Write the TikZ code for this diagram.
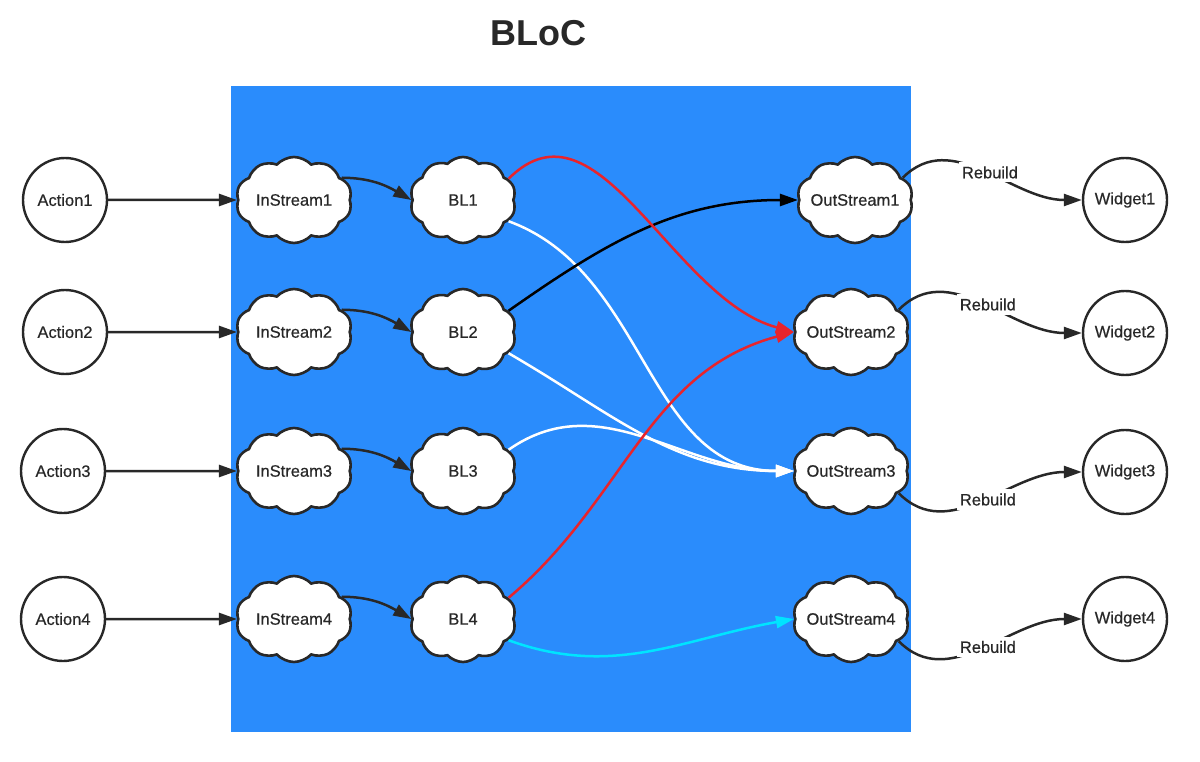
\documentclass[tikz,border=0pt]{standalone}
\usepackage{fontspec}
\setmainfont{Liberation Sans}
\newfontfamily\boxfont{Liberation Sans}[FakeBold=0.5]
\usepackage{tikz}
\usetikzlibrary{shapes.symbols,arrows.meta}
\definecolor{blocblue}{RGB}{42,140,252}
\definecolor{ink}{RGB}{40,40,40}
\definecolor{linkred}{RGB}{232,36,44}
\definecolor{linkcyan}{RGB}{0,228,255}

\begin{document}
\begin{tikzpicture}[x=1pt,y=1pt,
  font=\boxfont\fontsize{16.5}{19}\selectfont,
  act/.style={circle,draw=ink,line width=2.4pt,minimum size=84pt,inner sep=0pt,text=ink},
  blob/.style={cloud,cloud puffs=10,cloud puff arc=95,aspect=1.35,draw=ink,line width=2.6pt,fill=white,
    minimum width=116pt,minimum height=86pt,inner sep=0pt,label={[text=ink]center:#1}},
  link/.style={line width=2.5pt,-{Triangle[length=18pt,width=12pt]}},
  tag/.style={fill=white,inner xsep=3pt,inner ysep=4pt,text=ink}]
\useasboundingbox (0,0) rectangle (1200,-762);
\fill[blocblue] (231,-86) rectangle (911,-732);
\node[text=ink,font=\fontsize{36}{40}\selectfont\bfseries] (title) at (538,-33) {BLoC};

% actions
\node[act] (act1) at (65,-200) {Action1};
\node[act] (act2) at (65,-332) {Action2};
\node[act] (act3) at (63,-471) {Action3};
\node[act] (act4) at (63,-619) {Action4};

% streams in, logic, streams out
\node[blob=InStream1] (in1) at (294,-200) {};
\node[blob=InStream2] (in2) at (294,-332) {};
\node[blob=InStream3] (in3) at (294,-471) {};
\node[blob=InStream4] (in4) at (294,-619) {};
\node[blob=BL1,minimum width=106pt] (bl1) at (463,-200) {};
\node[blob=BL2,minimum width=106pt] (bl2) at (463,-332) {};
\node[blob=BL3,minimum width=106pt] (bl3) at (463,-471) {};
\node[blob=BL4,minimum width=106pt] (bl4) at (463,-619) {};
\node[blob=OutStream1] (out1) at (855,-200) {};
\node[blob=OutStream2] (out2) at (851,-332) {};
\node[blob=OutStream3] (out3) at (851,-471) {};
\node[blob=OutStream4] (out4) at (851,-619) {};

% widgets
\node[act] (wid1) at (1125,-200) {Widget1};
\node[act] (wid2) at (1125,-333) {Widget2};
\node[act] (wid3) at (1125,-472) {Widget3};
\node[act] (wid4) at (1125,-619) {Widget4};

\draw[link,ink] (act1) -- (in1.west);
\draw[link,ink] (act2) -- (in2.west);
\draw[link,ink] (act3) -- (in3.west);
\draw[link,ink] (act4) -- (in4.west);
\draw[link,ink] (in1.25) to[out=0,in=150] (bl1.west);
\draw[link,ink] (in2.25) to[out=0,in=150] (bl2.west);
\draw[link,ink] (in3.25) to[out=0,in=150] (bl3.west);
\draw[link,ink] (in4.25) to[out=0,in=150] (bl4.west);

\draw[link,white] (bl1.-25) to[out=-20,in=180] (out3.west);
\draw[link,white] (bl2.-25) to[out=-30,in=180] (out3.west);
\draw[link,white] (bl3.25) to[out=35,in=180] (out3.west);
\draw[link,black] (bl2.25) to[out=35,in=180] (out1.west);
\draw[link,linkred] (bl1.25) to[out=45,in=165] (out2.west);
\draw[link,linkred] (bl4.25) to[out=40,in=195] (out2.west);
\draw[link,linkcyan] (bl4.-25) to[out=-20,in=190] (out4.west);

\draw[link,ink] (out1.25) to[out=45,in=180] node[tag,pos=0.53] {Rebuild} (wid1);
\draw[link,ink] (out2.25) to[out=45,in=180] node[tag,pos=0.53] {Rebuild} (wid2);
\draw[link,ink] (out3.-25) to[out=-45,in=180] node[tag,pos=0.53] {Rebuild} (wid3);
\draw[link,ink] (out4.-25) to[out=-45,in=180] node[tag,pos=0.53] {Rebuild} (wid4);
\end{tikzpicture}
\end{document}
